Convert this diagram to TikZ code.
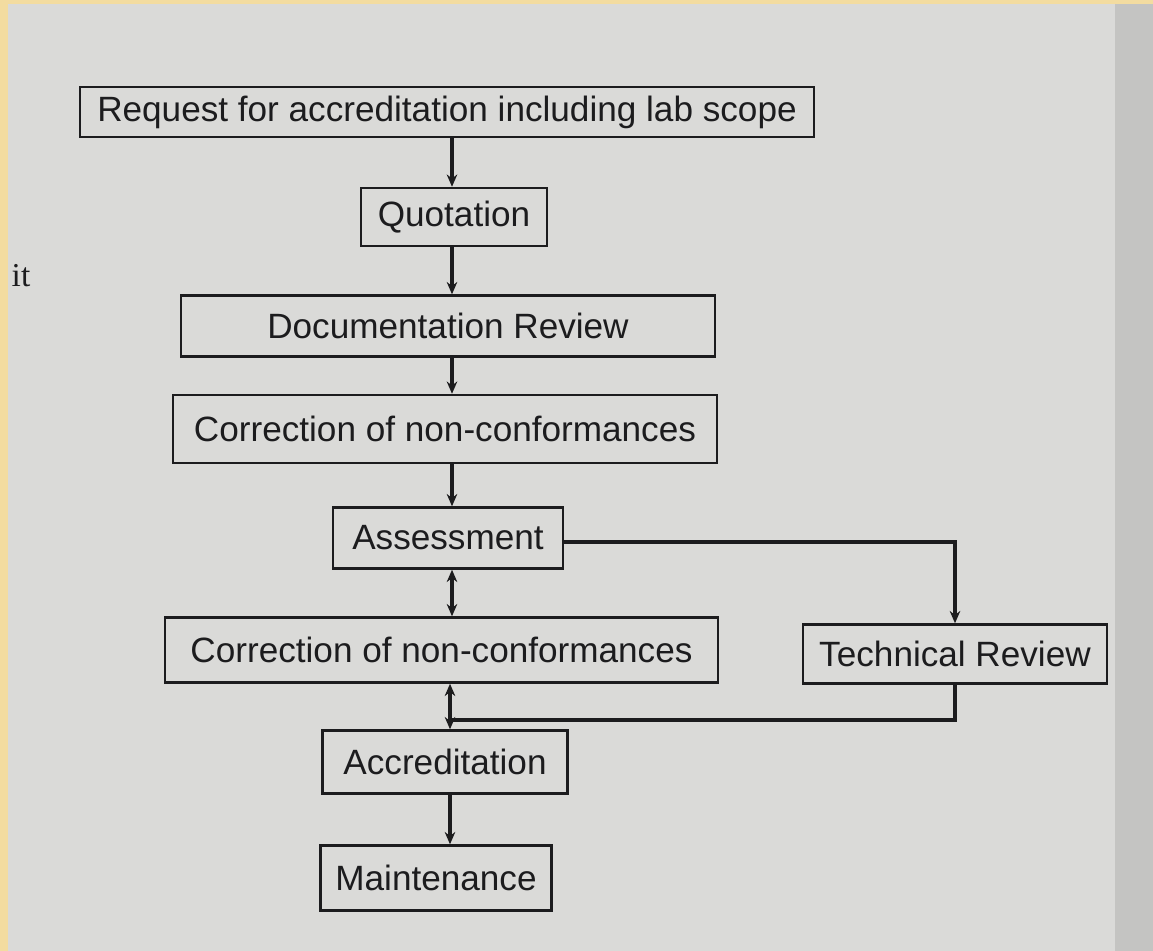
\documentclass[tikz,border=0pt]{standalone}
\usepackage{fontspec}
\setmainfont{Liberation Sans}
\newfontfamily\pageserif{Liberation Serif}
\usetikzlibrary{arrows.meta}
\definecolor{pagegray}{RGB}{218,218,216}
\definecolor{pageshade}{RGB}{196,196,194}
\definecolor{framegold}{RGB}{243,220,160}
\definecolor{inkline}{RGB}{28,28,30}
\tikzset{
  stagebox/.style={draw=inkline, line width=1.4pt, fill=pagegray, inner sep=0pt,
    font=\fontsize{20}{24}\selectfont, text=inkline},
  flow/.style={draw=inkline, line width=1.8pt, -{Stealth[length=7pt,width=6pt]}},
  twoway/.style={draw=inkline, line width=1.8pt, {Stealth[length=7pt,width=6pt]}-{Stealth[length=7pt,width=6pt]}},
  joinline/.style={draw=inkline, line width=1.8pt}
}
\begin{document}
\begin{tikzpicture}
% Page background and frame
\useasboundingbox (0,0) rectangle (23.06,-19.02);
\fill[framegold] (0,0) rectangle (23.06,-19.02);
\fill[pagegray] (0.16,-0.07) rectangle (23.06,-19.02);
\fill[pageshade] (22.3,-0.07) rectangle (23.06,-19.02);
\node[font=\pageserif\fontsize{19}{22}\selectfont, text=inkline] (pagetext) at (0.42,-5.52) {it};

% Spine of the chart
\coordinate (spine) at (9.04,0);

% Stages
\node[stagebox, minimum width=14.68cm, minimum height=1.0cm] (request) at (8.94,-2.24) {Request for accreditation including lab scope};
\node[stagebox, minimum width=3.72cm, minimum height=1.16cm] (quote) at (9.08,-4.34) {Quotation};
\node[stagebox, minimum width=10.68cm, minimum height=1.22cm] (docreview) at (8.96,-6.52) {Documentation Review};
\node[stagebox, minimum width=10.88cm, minimum height=1.36cm] (correctA) at (8.90,-8.58) {Correction of non-conformances};
\node[stagebox, minimum width=4.60cm, minimum height=1.22cm] (assess) at (8.96,-10.76) {Assessment};
\node[stagebox, minimum width=11.06cm, minimum height=1.30cm] (correctB) at (8.83,-13.0) {Correction of non-conformances};
\node[stagebox, minimum width=6.08cm, minimum height=1.18cm] (techreview) at (19.10,-13.08) {Technical Review};
\node[stagebox, minimum width=4.90cm, minimum height=1.26cm] (accredit) at (8.90,-15.24) {Accreditation};
\node[stagebox, minimum width=4.62cm, minimum height=1.30cm] (maintain) at (8.72,-17.56) {Maintenance};

% Join point below the second correction
\coordinate (merge) at (9.0,-14.4);

% Connectors
\draw[flow] (request.south -| spine) -- (quote.north -| spine);
\draw[flow] (quote.south -| spine) -- (docreview.north -| spine);
\draw[flow] (docreview.south -| spine) -- (correctA.north -| spine);
\draw[flow] (correctA.south -| spine) -- (assess.north -| spine);
\draw[twoway] (assess.south -| spine) -- (correctB.north -| spine);
\draw[flow] ([yshift=-0.08cm]assess.east) -- ([yshift=-0.08cm]assess.east -| techreview) -- (techreview.north);
\draw[twoway] (correctB.south -| merge) -- (accredit.north -| merge);
\draw[joinline] (techreview.south) |- (merge);
\draw[flow] (accredit.south -| merge) -- (maintain.north -| merge);
\end{tikzpicture}
\end{document}
